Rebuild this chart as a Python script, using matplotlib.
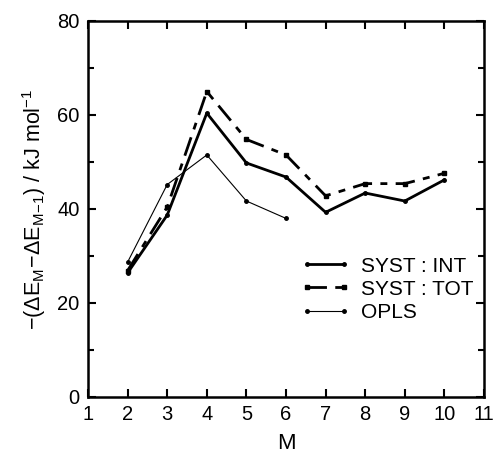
import numpy as np
import matplotlib.pyplot as plt

plt.rcParams['font.family'] = ['Liberation Sans', 'DejaVu Sans']
plt.rcParams['mathtext.fontset'] = 'custom'
plt.rcParams['mathtext.rm'] = 'Liberation Sans'
plt.rcParams['mathtext.it'] = 'Liberation Sans:italic'

m_syst = [2, 3, 4, 5, 6, 7, 8, 9, 10]
syst_int = [26.4, 38.7, 60.4, 49.8, 46.8, 39.3, 43.4, 41.7, 46.2]
syst_tot = [26.9, 40.4, 65.0, 54.8, 51.5, 42.8, 45.4, 45.4, 47.6]
m_opls = [2, 3, 4, 5, 6]
opls = [28.7, 45.2, 51.5, 41.7, 38.0]

fig = plt.figure(figsize=(4.95, 4.58), dpi=100, facecolor='w')
ax = fig.add_axes([88 / 495, 61 / 458, 396 / 495, 376 / 458])

ax.plot(m_syst, syst_int, '-', color='k', lw=2.0, marker='o', ms=2.5, label='SYST : INT')
ax.plot(m_syst, syst_tot, color='k', lw=2.0, marker='s', ms=2.5,
        dashes=(7, 3, 2.5, 3), label='SYST : TOT')
ax.plot(m_opls, opls, '-', color='k', lw=0.8, marker='o', ms=2.5, label='OPLS')

ax.set_xlim(1, 11)
ax.set_ylim(0, 80)
ax.set_xticks(range(1, 12))
ax.set_yticks([0, 20, 40, 60, 80])
ax.set_yticks(np.arange(10, 80, 20), minor=True)
ax.tick_params(which='both', direction='in', top=True, right=True, labelsize=14.5, width=1.5)
ax.tick_params(which='major', length=6, pad=6)
ax.tick_params(which='minor', length=4)
for s in ax.spines.values():
    s.set_linewidth(1.8)

ax.set_xlabel('M', fontsize=16, labelpad=6)
ax.set_ylabel(r'$-(\Delta\mathrm{E}_{\mathrm{M}}\!-\!\Delta\mathrm{E}_{\mathrm{M\!-\!1}})$ / kJ mol$^{-1}$',
              fontsize=15.5, labelpad=7)

leg = ax.legend(loc='lower right', bbox_to_anchor=(1.02, 0.15), frameon=False, fontsize=15,
                handlelength=2.4, handletextpad=0.5, labelspacing=0.2, numpoints=2)

plt.savefig('out.png', dpi=100)
